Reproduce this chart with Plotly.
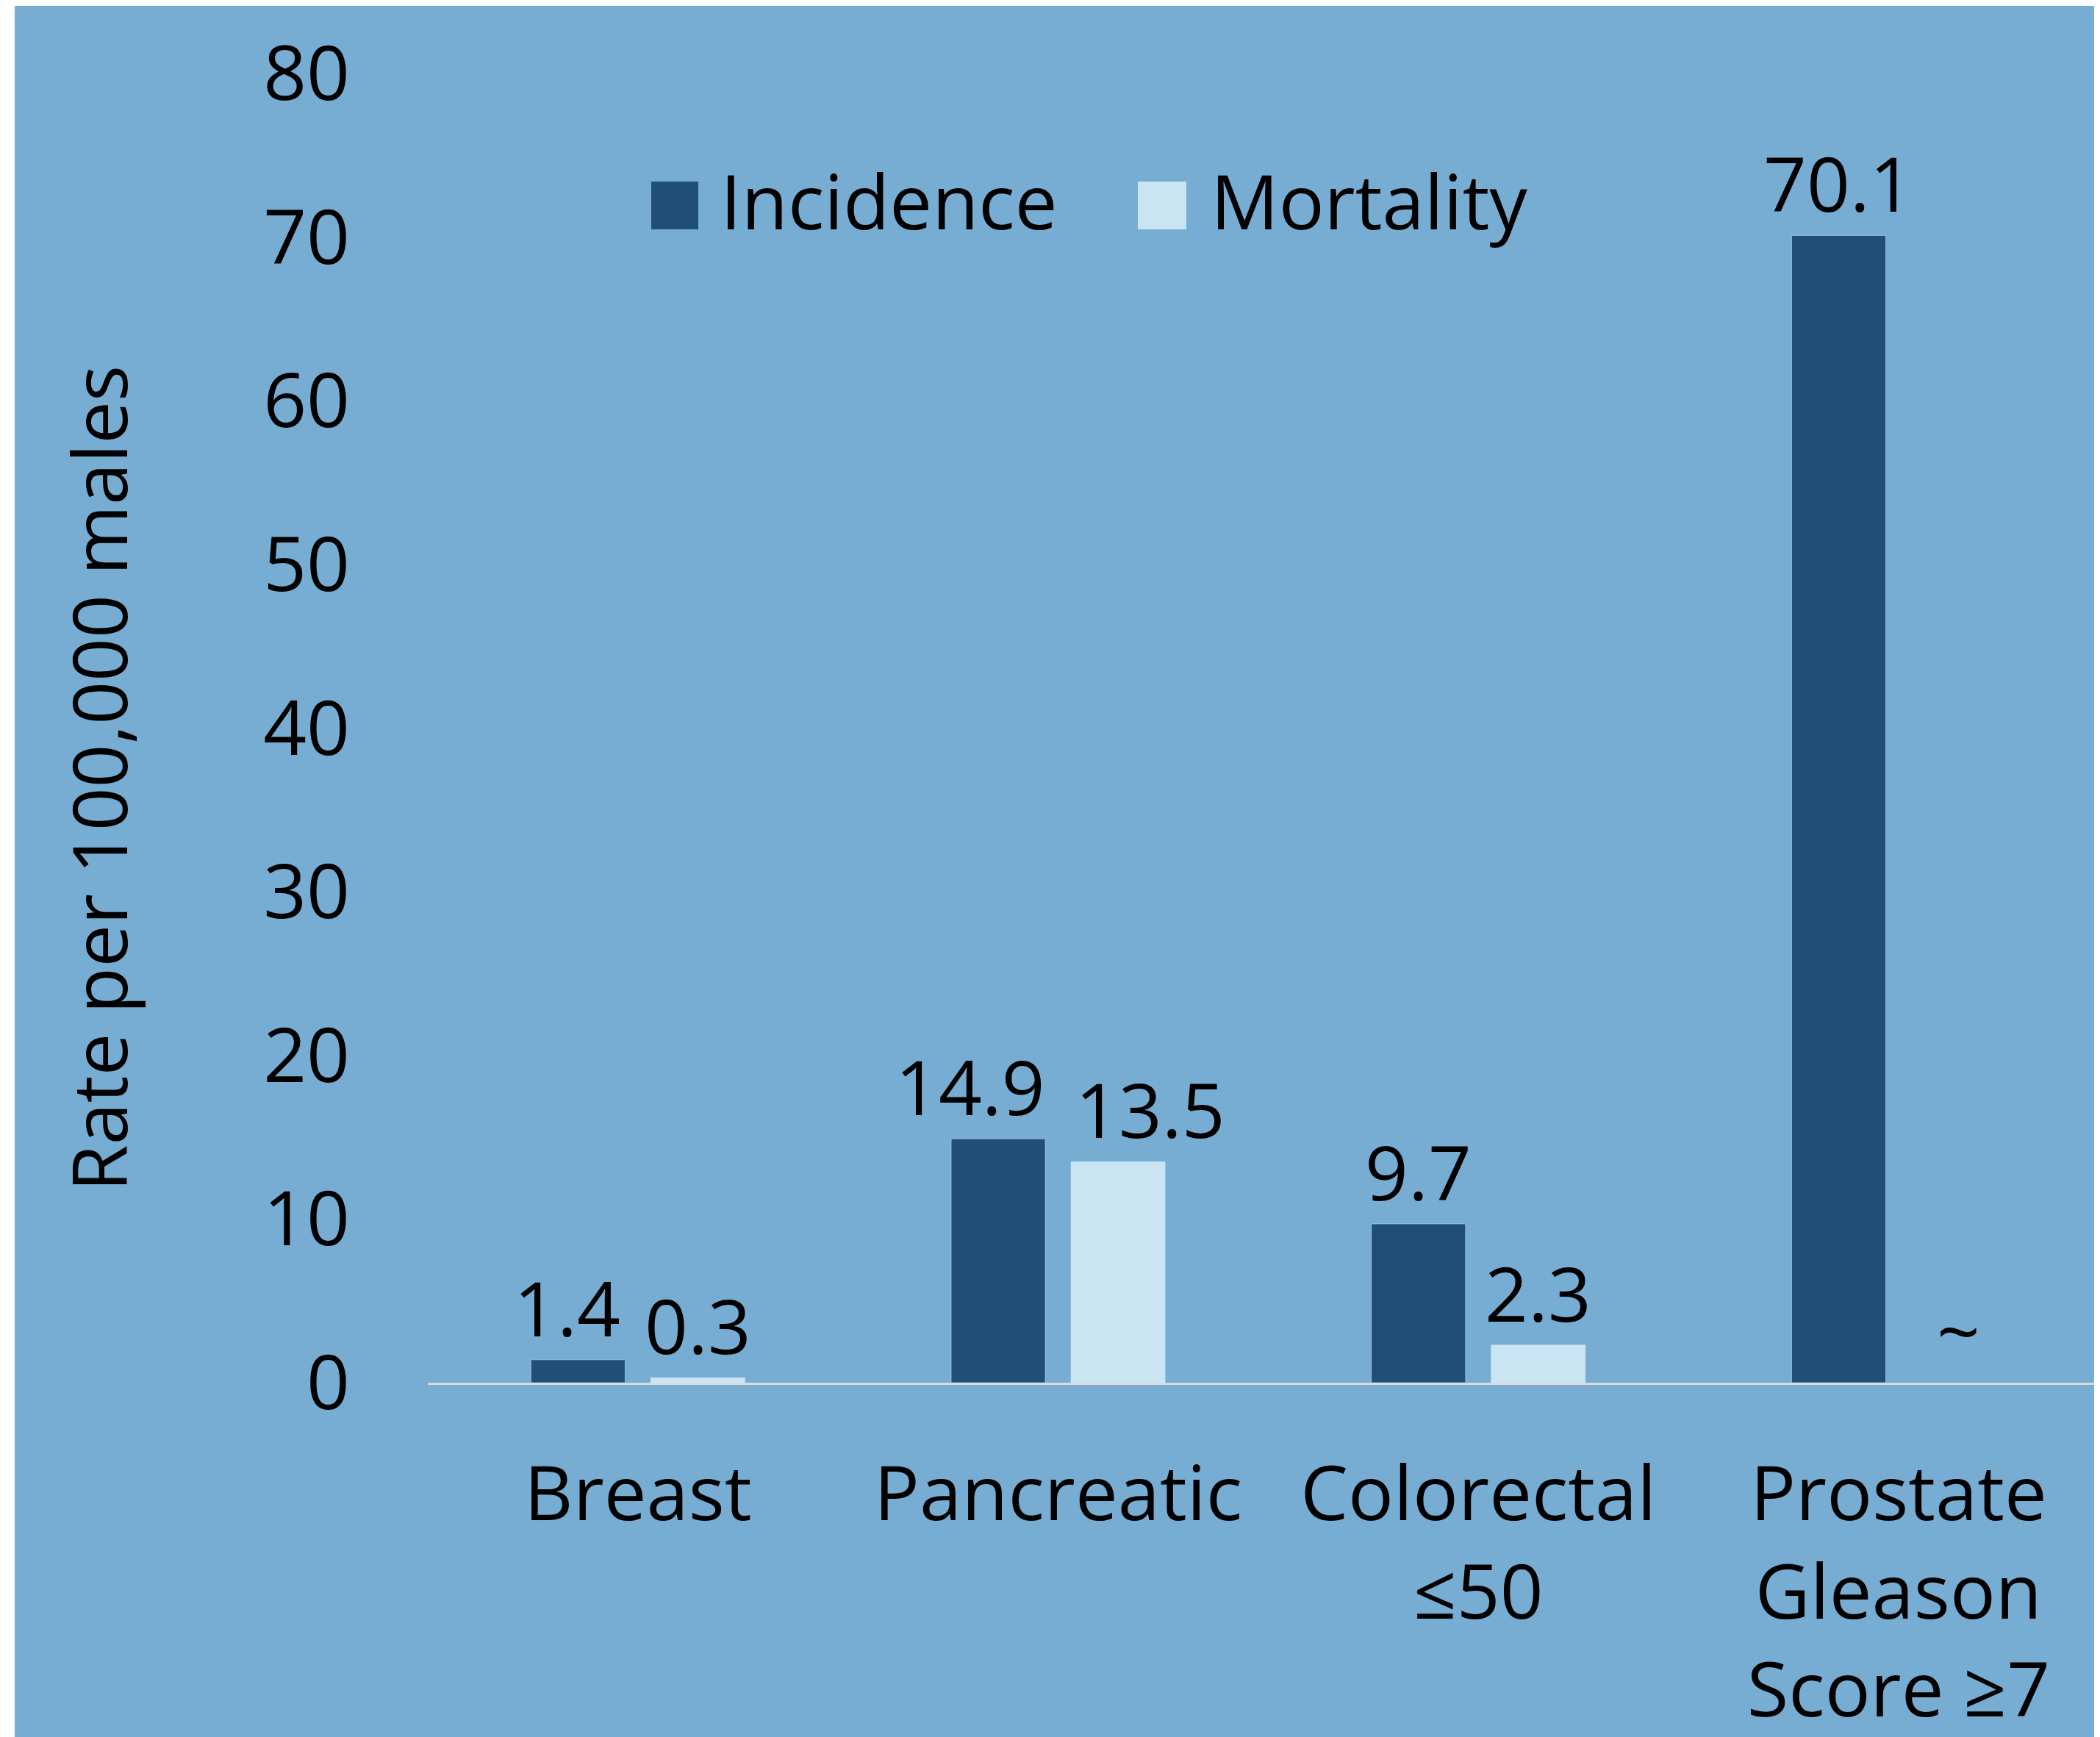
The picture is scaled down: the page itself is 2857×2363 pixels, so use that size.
import plotly.graph_objects as go

categories = ["Breast", "Pancreatic", "Colorectal<br>≤50", "Prostate<br>Gleason<br>Score ≥7"]
incidence = [1.4, 14.9, 9.7, 70.1]
mortality = [0.3, 13.5, 2.3, None]
incidence_labels = ["1.4", "14.9", "9.7", "70.1"]
mortality_labels = ["0.3", "13.5", "2.3", "~"]
y_ticks = [0, 10, 20, 30, 40, 50, 60, 70, 80]
series_names = ["Incidence", "Mortality"]

# small horizontal nudges (px) of value labels, as in the original layout
inc_label_dx = [-15, -38, 0, 0]
mort_label_dx = [0, 44, 0, 0]

BG = "#77acd3"
DARK = "#1f4e79"
LIGHT = "#c9e4f3"
FONT = "Open Sans"
FS = 103

OFF = 8  # page body margin
W, H = 2857, 2363
ML = 582 - OFF
MT = 100 - OFF
PLOT_BOTTOM = 1881 - OFF
MR = 0
MB = H - PLOT_BOTTOM
PW = W - ML - MR
PH = H - MT - MB
CAT_PX = 571.7

bar_w = 0.224
off_inc = -0.2545
off_mort = 0.0306

fig = go.Figure()
fig.add_trace(go.Bar(x=categories, y=incidence, name=series_names[0], marker_color=DARK,
                     width=bar_w, offset=off_inc, showlegend=False))
fig.add_trace(go.Bar(x=categories, y=mortality, name=series_names[1], marker_color=LIGHT,
                     width=bar_w, offset=off_mort, showlegend=False))

annotations = []
for i, (v, t) in enumerate(zip(incidence, incidence_labels)):
    annotations.append(dict(x=i + off_inc + bar_w / 2, y=v, xref="x", yref="y", text=t,
                            showarrow=False, yanchor="middle", yshift=72, xshift=inc_label_dx[i],
                            font=dict(family=FONT, size=FS, color="black")))
for i, (v, t) in enumerate(zip(mortality, mortality_labels)):
    annotations.append(dict(x=i + off_mort + bar_w / 2, y=v if v is not None else 0, xref="x", yref="y",
                            text=t, showarrow=False, yanchor="middle", yshift=72, xshift=mort_label_dx[i],
                            font=dict(family=FONT, size=FS, color="black")))

def px_x(p):
    # p: target screen pixel
    return (p - OFF - ML) / PW

def px_y(p):
    return (H - MB - (p - OFF)) / PH

# y-axis title
annotations.append(dict(x=px_x(133), y=px_y(1059), xref="paper", yref="paper",
                        text="Rate per 100,000 males", textangle=-90, showarrow=False,
                        xanchor="center", yanchor="middle",
                        font=dict(family=FONT, size=FS, color="black")))
# legend texts
annotations.append(dict(x=px_x(978), y=px_y(272), xref="paper", yref="paper", text=series_names[0],
                        showarrow=False, xanchor="left", yanchor="middle",
                        font=dict(family=FONT, size=FS, color="black")))
annotations.append(dict(x=px_x(1645), y=px_y(272), xref="paper", yref="paper", text=series_names[1],
                        showarrow=False, xanchor="left", yanchor="middle",
                        font=dict(family=FONT, size=FS, color="black")))

shapes = [
    dict(type="rect", xref="paper", yref="paper", x0=px_x(20), x1=px_x(W + 20), y0=px_y(H + 20), y1=px_y(-20),
         fillcolor=BG, line=dict(width=0), layer="below"),
    dict(type="rect", xref="paper", yref="paper", x0=px_x(886), x1=px_x(950), y0=px_y(312), y1=px_y(247),
         fillcolor=DARK, line=dict(width=0)),
    dict(type="rect", xref="paper", yref="paper", x0=px_x(1548), x1=px_x(1614), y0=px_y(312), y1=px_y(247),
         fillcolor=LIGHT, line=dict(width=0)),
]

fig.update_layout(
    width=W, height=H,
    margin=dict(l=ML, r=MR, t=MT, b=MB, pad=0, autoexpand=False),
    paper_bgcolor="white",
    plot_bgcolor=BG,
    font=dict(family=FONT, size=FS, color="black"),
    annotations=annotations,
    shapes=shapes,
    showlegend=False,
    xaxis=dict(range=[-0.5, -0.5 + PW / CAT_PX], showgrid=False, zeroline=False,
               showline=True, linecolor="#d9d9d9", linewidth=3, ticks="", automargin=False,
               tickfont=dict(family=FONT, size=FS, color="black"), ticklabelstandoff=60),
    yaxis=dict(range=[0, 80], tickvals=y_ticks, showgrid=False, zeroline=False, showline=False,
               ticks="", automargin=False,
               tickfont=dict(family=FONT, size=FS, color="black"), ticklabelstandoff=105),
)

fig.write_html("out.html")
